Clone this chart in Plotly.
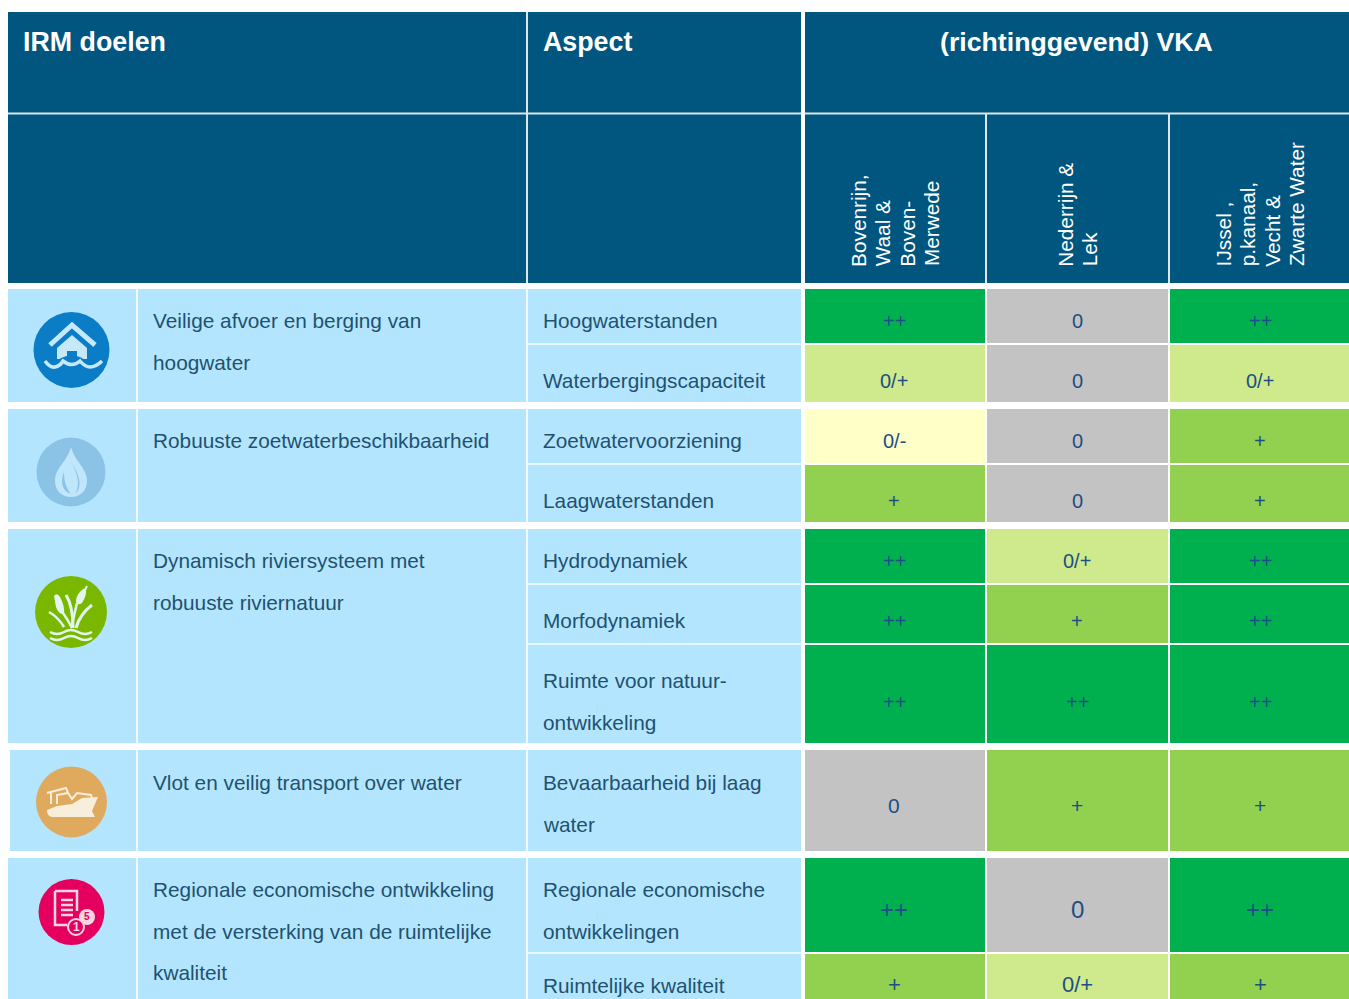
import plotly.graph_objects as go

# ---------- data ----------
goals = [
    ["Veilige afvoer en berging van", "hoogwater"],
    ["Robuuste zoetwaterbeschikbaarheid"],
    ["Dynamisch riviersysteem met", "robuuste riviernatuur"],
    ["Vlot en veilig transport over water"],
    ["Regionale economische ontwikkeling", "met de versterking van de ruimtelijke", "kwaliteit"],
]
aspects = [
    ["Hoogwaterstanden"], ["Waterbergingscapaciteit"], ["Zoetwatervoorziening"],
    ["Laagwaterstanden"], ["Hydrodynamiek"], ["Morfodynamiek"],
    ["Ruimte voor natuur-", "ontwikkeling"], ["Bevaarbaarheid bij laag", "water"],
    ["Regionale economische", "ontwikkelingen"], ["Ruimtelijke kwaliteit"],
]
regions = [
    ["Bovenrijn,", "Waal &", "Boven-", "Merwede"],
    ["Nederrijn &", "Lek"],
    ["IJssel ,", "p.kanaal,", "Vecht &", "Zwarte Water"],
]
ratings = [
    ["++", "0", "++"], ["0/+", "0", "0/+"], ["0/-", "0", "+"], ["+", "0", "+"],
    ["++", "0/+", "++"], ["++", "+", "++"], ["++", "++", "++"], ["0", "+", "+"],
    ["++", "0", "++"], ["+", "0/+", "+"],
]
scale_order = ["0", "0/-", "0/+", "+", "++"]
scale_colors = ["#C4C3C3", "#FFFFC8", "#CFEA8C", "#92D14F", "#00B04F"]

# ---------- layout geometry ----------
W, H = 1349, 999
HEAD = "#00567F"
LIGHT = "#B3E6FE"
INK = "#1F5170"
CELL_INK = "#1B4F85"
FONT = "Liberation Sans"
col_edges = [804, 986, 1169, 1351]
col_text_shift = [-1, -0.5, 0]
row_edges = [(289, 343), (345, 402), (409, 463), (465, 522), (529, 583), (585, 643),
             (645, 743), (750, 851), (858, 952), (954, 1020)]
group_boxes = [(8, 289, 402), (8, 409, 522), (8, 529, 743), (10, 750, 851), (8, 858, 1000)]
goal_y = [320.3, 440.3, 560.3, 782.3, 889.3]
aspect_y = [320.3, 380.3, 440.3, 500.3, 560.3, 620.3, 680.3, 782.3, 889.3, 985.3]
cell_y = [321, 381, 441, 501, 561, 621, 701.5, 805.5, 909, 984.5]
cell_size = [20, 20, 20, 20, 20, 20, 20, 21, 24, 22]

fig = go.Figure()
shapes, notes = [], []


def rect(x0, y0, x1, y1, fill, layer="below"):
    shapes.append(dict(type="rect", xref="x", yref="y", x0=x0, y0=y0, x1=x1, y1=y1,
                       fillcolor=fill, line_width=0, layer=layer))


def line(x0, y0, x1, y1, color="#DCE6EC", width=2, layer="above"):
    shapes.append(dict(type="line", xref="x", yref="y", x0=x0, y0=y0, x1=x1, y1=y1,
                       line=dict(color=color, width=width), layer=layer))


def circle(cx, cy, r, fill, lc=None, lw=0):
    shapes.append(dict(type="circle", xref="x", yref="y", x0=cx - r, y0=cy - r, x1=cx + r, y1=cy + r,
                       fillcolor=fill, line=dict(color=lc or fill, width=lw), layer="above"))


def path(d, fill=None, color=None, width=0):
    s = dict(type="path", xref="x", yref="y", path=d, layer="above", line=dict(width=width))
    s["fillcolor"] = fill if fill else "rgba(0,0,0,0)"
    if color:
        s["line"]["color"] = color
    shapes.append(s)


def text(x, y, t, size=20.8, color=INK, anchor="left", bold=False, angle=0, yanchor="middle"):
    notes.append(dict(x=x, y=y, xref="x", yref="y", text=f"<b>{t}</b>" if bold else t, showarrow=False,
                      xanchor=anchor, yanchor=yanchor, textangle=angle, align="left",
                      font=dict(family=FONT, size=size, color=color)))


# headers
rect(8, 12, W + 1, 283, HEAD)
line(8, 113.5, W + 1, 113.5)
line(527, 12, 527, 283)
rect(801, 12, 805, 283, "#FFFFFF", "above")
line(986, 114, 986, 283)
line(1169, 114, 1169, 283)
text(21, 41.5, "IRM doelen", 26.8, "#FFFFFF", bold=True)
text(541, 41.5, "Aspect", 26.8, "#FFFFFF", bold=True)
text(1076.5, 41.5, "(richtinggevend) VKA", 26.7, "#FFFFFF", anchor="center", bold=True)
LABEL_STEP = 24.4
for i, label in enumerate(regions):
    cx = (col_edges[i] + col_edges[i + 1]) / 2
    for k, t in enumerate(label):
        text(cx + (k - (len(label) - 1) / 2) * LABEL_STEP, 268.5, t, 20.8, "#FFFFFF",
             anchor="center", angle=-90, yanchor="bottom")

# body backgrounds
for x0, y0, y1 in group_boxes:
    rect(x0, y0, 801, y1, LIGHT)
    line(137, y0, 137, y1, "#F0FAFF", 2)
    line(527, y0, 527, y1, "#F0FAFF", 2)
for (a, b), (c, d) in zip(row_edges, row_edges[1:]):
    if c - b == 2:
        line(528, b + 1, 801, b + 1, "#E6F7FF", 2)

# rating cells
zvals = [[scale_order.index(v) for v in row] for row in ratings]
n = len(scale_order)
colorscale = []
for i, c in enumerate(scale_colors):
    colorscale += [[i / n, c], [(i + 1) / n, c]]
for row, (y0, y1) in zip(zvals, row_edges):
    fig.add_trace(go.Heatmap(z=[row], x=col_edges, y=[y0, y1], zmin=-0.5, zmax=n - 0.5,
                             colorscale=colorscale, showscale=False, xgap=2, hoverinfo="skip"))
for labels, y, size in zip(ratings, cell_y, cell_size):
    for i, v in enumerate(labels):
        text((col_edges[i] + col_edges[i + 1]) / 2 + col_text_shift[i], y, v, size, CELL_INK, anchor="center")

# body text
LINE_STEP = 41.8
for lines, y in zip(goals, goal_y):
    for i, t in enumerate(lines):
        text(151, y + i * LINE_STEP, t)
for lines, y in zip(aspects, aspect_y):
    for i, t in enumerate(lines):
        text(541, y + i * LINE_STEP, t)

# icon: house
ICON = "#C6E9FA"
BLUE = "#0B7DC6"
circle(71.5, 350, 38, BLUE)
path("M57,348 L72,335 L87,348 L87,359 L57,359 Z", fill=ICON)
rect(67, 351, 77, 362, BLUE, "above")
path("M50,345 L72,325 L95,345", color=ICON, width=5)
path("M45,361 Q50,368 55,367 Q60,366 63,361 Q72,357 80,361 Q85,367 90,367 Q96,367 102,361", color=BLUE, width=7)
path("M45,361 Q50,368 55,367 Q60,366 63,361 Q72,368 80,361 Q85,367 90,367 Q96,367 102,361", color=ICON, width=3.5)
# icon: drop
circle(71, 472, 34.5, "#8BC3E7")
path("M71,447 C67,462 55,468 55,481 C55,491 62,497 71,497 C80,497 87,491 87,481 C87,468 75,462 71,447 Z", fill="#BFE6FA")
path("M64,472 C60,482 62,491 71,494 C66,488 64,481 64,472 Z", fill="#8BC3E7")
path("M71,462 C77,472 81,484 75,494 C82,488 81,476 71,462 Z", fill="#8BC3E7")
# icon: reeds
RW = "#E3F5EE"
circle(71, 612, 36, "#7AB800")
path("M54,596 Q57,592 60,597 Q65,606 64,614 Q59,615 56,607 Z", fill=RW)
path("M80,592 Q84,587 86,589 Q87,595 82,603 Q78,606 76,602 Q76,596 80,592 Z", fill=RW)
path("M85,590 L87,586", color=RW, width=2)
path("M63,613 Q68,620 72,628", color=RW, width=2.5)
path("M66,595 Q73,606 73,628", color=RW, width=3)
path("M92,605 Q80,614 76,628", color=RW, width=3)
path("M49,612 Q58,617 64,627", color=RW, width=2.5)
path("M77,603 Q74,615 72,626", color=RW, width=2.5)
path("M50,632 Q57,636 64,632 Q71,628 78,632 Q85,636 92,632", color=RW, width=2.5)
path("M50,638 Q57,642 64,638 Q71,634 78,638 Q85,642 92,638", color=RW, width=2.5)
# icon: ship
SH = "#F7EEDC"
circle(71.5, 802, 35.5, "#DFAA5E")
path("M47,810 L57,806 L72,804 L82,798 L98,797 L92,811 L95,817 L52,817 Q47,816 47,810 Z", fill=SH)
path("M51,804 L51,792 M47,793 L66,788 L68,793 L57,795 L57,804", color=SH, width=2)
path("M68,793 L72,799 L77,793 L91,795 L92,798", color=SH, width=2)
# icon: receipt
RED = "#E5005F"
RI = "#F6D5E3"
circle(71.5, 912, 33, RED)
path("M55,891 L77,891 L77,911 M55,891 L55,925 L67,925", color=RI, width=2.5)
for yy in (900, 905, 910, 915):
    line(61, yy, 73, yy, RI, 2.5)
circle(87, 917, 8, RI)
circle(76, 927, 8, RED, RI, 2)
text(87, 916, "<b>5</b>", 10, RED, anchor="center")
text(76, 927, "<b>1</b>", 12, RI, anchor="center")

fig.update_layout(
    width=W, height=H, margin=dict(l=0, r=0, t=0, b=0), showlegend=False,
    paper_bgcolor="#FFFFFF", plot_bgcolor="#FFFFFF", shapes=shapes, annotations=notes,
    xaxis=dict(range=[0, W], visible=False, fixedrange=True),
    yaxis=dict(range=[H, 0], visible=False, fixedrange=True),
)
fig.write_html("out.html", config=dict(displayModeBar=False),
               post_script="document.body.style.margin='0';")
